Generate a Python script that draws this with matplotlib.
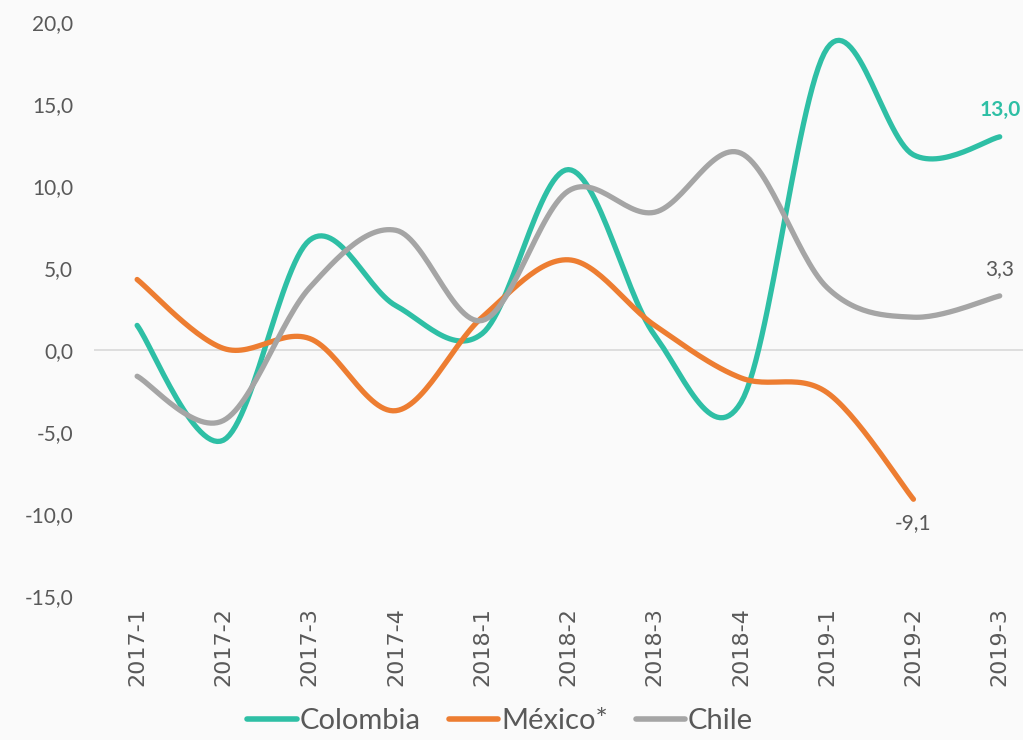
import numpy as np
import matplotlib
matplotlib.use("Agg")
import matplotlib.pyplot as plt
from matplotlib.lines import Line2D

# datos (variación anual, %)
periodos = ["2017-1", "2017-2", "2017-3", "2017-4", "2018-1", "2018-2",
            "2018-3", "2018-4", "2019-1", "2019-2", "2019-3"]
colombia = [1.5, -5.5, 6.7, 2.7, 1.0, 11.0, 0.9, -3.2, 18.4, 11.9, 13.0]
mexico = [4.3, 0.1, 0.7, -3.7, 2.0, 5.5, 1.5, -1.7, -2.6, -9.1]
chile = [-1.6, -4.3, 3.8, 7.3, 1.8, 9.7, 8.4, 12.0, 3.8, 2.0, 3.3]
yticks = [-15, -10, -5, 0, 5, 10, 15, 20]

c_col = "#2EBFA5"
c_mex = "#ED7D31"
c_chi = "#A5A5A5"
c_txt = "#595959"
bg = "#FAFAFA"

plt.rcParams['font.family'] = ['Lato', 'DejaVu Sans']


def suave(xs, ys, n=30):
    # curva tipo "linea suavizada" de Excel (bezier cardinal)
    xs = np.asarray(xs, float)
    ys = np.asarray(ys, float)
    P = np.column_stack([xs, ys])
    Pe = np.vstack([P[0], P, P[-1]])
    out = []
    t = np.linspace(0, 1, n)[:, None]
    for i in range(len(P) - 1):
        p0 = Pe[i + 1]
        p3 = Pe[i + 2]
        c1 = p0 + (Pe[i + 2] - Pe[i]) / 6
        c2 = p3 - (Pe[i + 3] - Pe[i + 1]) / 6
        seg = ((1 - t) ** 3) * p0 + 3 * ((1 - t) ** 2) * t * c1 + 3 * (1 - t) * t ** 2 * c2 + t ** 3 * p3
        out.append(seg)
    out = np.vstack(out)
    return out[:, 0], out[:, 1]


fig = plt.figure(figsize=(10.23, 7.40), dpi=100, facecolor=bg)
ax = fig.add_axes([94 / 1023, 1 - 596 / 740, 1 - 94 / 1023, (596 - 22) / 740])
ax.set_facecolor(bg)

ax.axhline(0, color="#D9D9D9", lw=1.2, zorder=1)

series = [(colombia, c_col, "Colombia"), (mexico, c_mex, "México*"), (chile, c_chi, "Chile")]
for vals, col, nom in series:
    xs, ys = suave(range(len(vals)), vals)
    ax.plot(xs, ys, color=col, lw=3.8, solid_capstyle="round", zorder=3)

ax.set_xlim(-0.5, 10.27)
ax.set_ylim(-15, 20)
ax.set_yticks(yticks)
ax.set_yticklabels([f"{v:.1f}".replace(".", ",") for v in yticks], color=c_txt, fontsize=15)
ax.set_xticks(range(len(periodos)))
ax.set_xticklabels(periodos, rotation=90, color=c_txt, fontsize=16,
                   family=['Liberation Sans Narrow', 'DejaVu Sans'])
ax.tick_params(length=0, axis="y", pad=15)
ax.tick_params(length=0, axis="x", pad=8)
for s in ax.spines.values():
    s.set_visible(False)

# etiquetas de datos
ax.annotate("13,0", (10, colombia[-1]), xytext=(0, 19), textcoords="offset points",
            ha="center", va="center", color=c_col, fontsize=15, fontweight="bold")
ax.annotate("3,3", (10, chile[-1]), xytext=(0, 19), textcoords="offset points",
            ha="center", va="center", color=c_txt, fontsize=15)
ax.annotate("-9,1", (9, mexico[-1]), xytext=(0, -17), textcoords="offset points",
            ha="center", va="center", color=c_txt, fontsize=15)

handles = [Line2D([], [], color=c, lw=4, solid_capstyle="round") for _, c, _ in series]
fig.legend(handles, [n for _, _, n in series], loc="center", bbox_to_anchor=(0.489, 0.026),
           ncol=3, frameon=False, fontsize=21, handlelength=1.7, handletextpad=0.1,
           columnspacing=0.95, labelcolor=c_txt, borderpad=0.1)

fig.savefig("out.png", dpi=100, facecolor=bg)
